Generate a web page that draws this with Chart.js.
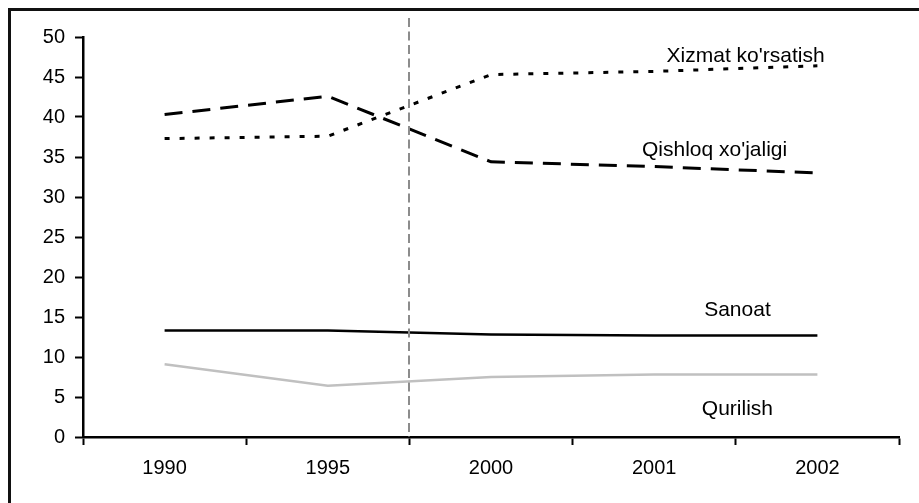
<!DOCTYPE html>
<html>
<head>
<meta charset="utf-8">
<script src="https://cdn.jsdelivr.net/npm/chart.js@4.4.1/dist/chart.umd.min.js"></script>
<style>
  html, body { margin: 0; padding: 0; background: #fff; overflow: hidden; }
  #frame {
    position: absolute; left: 8px; top: 8px; width: 1000px; height: 600px;
    border-left: 3px solid #111; border-top: 3px solid #111;
  }
  #wrap { position: absolute; left: 0; top: 0; width: 919px; height: 503px; }
</style>
</head>
<body>
<div id="frame"></div>
<div id="wrap"><canvas id="chart" width="919" height="503"></canvas></div>
<script>
// Chart data
const years = ['1990', '1995', '2000', '2001', '2002'];
const xizmat = [37.3, 37.6, 45.3, 45.7, 46.4];   // Xizmat ko'rsatish
const qishloq = [40.3, 42.6, 34.4, 33.8, 33.0];  // Qishloq xo'jaligi
const sanoat = [13.3, 13.3, 12.8, 12.7, 12.7];   // Sanoat
const qurilish = [9.1, 6.4, 7.5, 7.8, 7.8];      // Qurilish
const yTicks = [0, 5, 10, 15, 20, 25, 30, 35, 40, 45, 50];

// Series names written next to the lines (x in category units, y in values)
const seriesLabels = [
  { text: "Xizmat ko'rsatish", x: 3.56, y: 47.6 },
  { text: "Qishloq xo'jaligi", x: 3.37, y: 35.8 },
  { text: 'Sanoat', x: 3.51, y: 15.9 },
  { text: 'Qurilish', x: 3.51, y: 3.5 }
];

const FONT = '"Liberation Sans", Arial, sans-serif';

// Plugin: grey dashed divider between 1995 and 2000, plus the line names
const extrasPlugin = {
  id: 'extras',
  afterDatasetsDraw(chart) {
    const { ctx, scales: { x, y }, chartArea } = chart;
    const xPos = (x.getPixelForValue(1) + x.getPixelForValue(2)) / 2;
    ctx.save();
    ctx.strokeStyle = '#8c8c8c';
    ctx.lineWidth = 2;
    ctx.setLineDash([9, 4.5]);
    ctx.beginPath();
    ctx.moveTo(Math.round(xPos), 18);
    ctx.lineTo(Math.round(xPos), chartArea.bottom);
    ctx.stroke();
    ctx.setLineDash([]);

    ctx.fillStyle = '#000';
    ctx.font = '21px ' + FONT;
    ctx.textAlign = 'center';
    ctx.textBaseline = 'middle';
    seriesLabels.forEach(l => {
      ctx.fillText(l.text, x.getPixelForValue(l.x), y.getPixelForValue(l.y));
    });
    ctx.restore();
  }
};

new Chart(document.getElementById('chart'), {
  type: 'line',
  data: {
    labels: years,
    datasets: [
      {
        label: "Xizmat ko'rsatish",
        data: xizmat,
        borderColor: '#000',
        borderWidth: 3,
        borderDash: [5, 10],
        pointRadius: 0
      },
      {
        label: "Qishloq xo'jaligi",
        data: qishloq,
        borderColor: '#000',
        borderWidth: 3,
        borderDash: [18, 10],
        pointRadius: 0
      },
      {
        label: 'Sanoat',
        data: sanoat,
        borderColor: '#000',
        borderWidth: 2.5,
        pointRadius: 0
      },
      {
        label: 'Qurilish',
        data: qurilish,
        borderColor: '#c0c0c0',
        borderWidth: 2.5,
        pointRadius: 0
      }
    ]
  },
  options: {
    responsive: false,
    animation: false,
    layout: { padding: { left: 0, top: 37, right: 20, bottom: 0 } },
    plugins: {
      legend: { display: false },
      tooltip: { enabled: false }
    },
    scales: {
      x: {
        offset: true,
        grid: {
          offset: true,
          drawOnChartArea: false,
          drawTicks: true,
          tickLength: 8,
          tickWidth: 2,
          tickColor: '#000'
        },
        border: { color: '#000', width: 2.5 },
        ticks: {
          color: '#000',
          font: { family: FONT, size: 20 },
          padding: 11,
          maxRotation: 0
        },
        afterFit(scale) { scale.height = 66; }
      },
      y: {
        min: 0,
        max: 50,
        afterBuildTicks(scale) { scale.ticks = yTicks.map(v => ({ value: v })); },
        grid: {
          drawOnChartArea: false,
          drawTicks: true,
          tickLength: 8,
          tickWidth: 2,
          tickColor: '#000'
        },
        border: { color: '#000', width: 2.5 },
        ticks: {
          color: '#000',
          font: { family: FONT, size: 20 },
          padding: 10
        },
        afterFit(scale) { scale.width = 83; }
      }
    }
  },
  plugins: [extrasPlugin]
});
</script>
</body>
</html>
